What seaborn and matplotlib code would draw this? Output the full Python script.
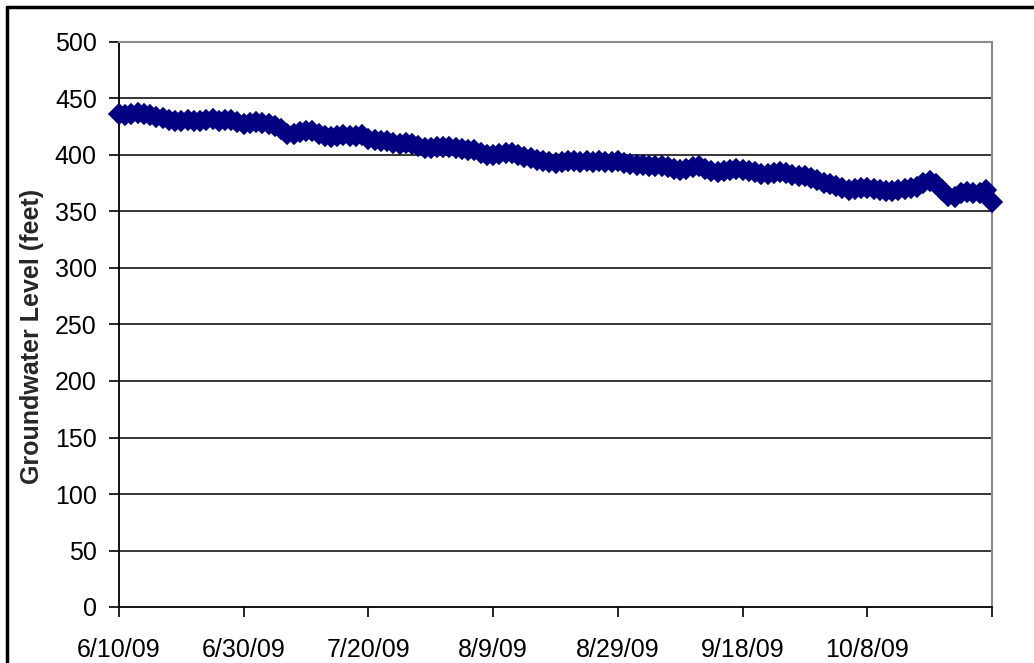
import matplotlib
matplotlib.use("Agg")
import matplotlib.pyplot as plt
from matplotlib.lines import Line2D
import seaborn as sns
import pandas as pd

# ---- data (daily readings) ----
start_date = "2009-06-10"
levels = [
    436, 435, 436, 437, 436, 435, 434, 433, 431, 430,
    430, 431, 430, 430, 431, 432, 430, 431, 431, 429,
    427, 428, 429, 428, 427, 426, 423, 419, 419, 420,
    421, 421, 419, 417, 416, 417, 418, 417, 417, 418,
    414, 413, 412, 412, 411, 410, 411, 410, 408, 406,
    406, 407, 407, 407, 406, 405, 404, 404, 402, 400,
    400, 401, 402, 402, 400, 398, 397, 396, 395, 394,
    393, 394, 395, 395, 394, 395, 394, 395, 394, 394,
    395, 393, 392, 391, 391, 390, 390, 390, 389, 388,
    387, 388, 389, 390, 388, 386, 385, 386, 387, 388,
    387, 386, 385, 383, 383, 384, 385, 384, 382, 381,
    381, 380, 378, 375, 374, 373, 371, 369, 370, 371,
    371, 370, 369, 368, 368, 369, 370, 371, 372, 375,
    377, 374, 369, 364, 363, 366, 367, 366, 366, 369,
    358,
]
tick_dates = ["2009-06-10", "2009-06-30", "2009-07-20", "2009-08-09",
              "2009-08-29", "2009-09-18", "2009-10-08", "2009-10-28"]
tick_labels = ["6/10/09", "6/30/09", "7/20/09", "8/9/09",
               "8/29/09", "9/18/09", "10/8/09", ""]
y_ticks = [0, 50, 100, 150, 200, 250, 300, 350, 400, 450, 500]
y_label = "Groundwater Level (feet)"

df = pd.DataFrame({
    "date": pd.date_range(start_date, periods=len(levels), freq="D"),
    "level": levels,
})

sns.set_theme(style="white")
plt.rcParams["font.family"] = ["Liberation Sans", "DejaVu Sans"]

fig = plt.figure(figsize=(10.34, 6.63), dpi=100)
ax = fig.add_axes([119 / 1034, 1 - 607 / 663, (992 - 119) / 1034, (607 - 42) / 663])

sns.lineplot(data=df, x="date", y="level", ax=ax, color="#000080",
             marker="D", markersize=10.5, markeredgecolor="#000080",
             markeredgewidth=1.2, linewidth=3.5, clip_on=False, zorder=5)

ax.set_ylim(0, 500)
ax.set_xlim(pd.Timestamp(tick_dates[0]), pd.Timestamp(tick_dates[-1]))
ax.set_yticks(y_ticks)
ax.set_yticklabels([str(v) for v in y_ticks])
ax.set_xticks([pd.Timestamp(d) for d in tick_dates])
ax.set_xticklabels(tick_labels)

for v in y_ticks[1:-1]:
    ax.axhline(v, color="black", linewidth=1.1, zorder=1)

for s in ["left", "bottom"]:
    ax.spines[s].set_color("black")
    ax.spines[s].set_linewidth(1.3)
for s in ["top", "right"]:
    ax.spines[s].set_color("#8a8a8a")
    ax.spines[s].set_linewidth(1.5)

ax.tick_params(axis="both", which="major", labelsize=18, colors="black",
               direction="out", length=7, width=1.2, left=True, bottom=True)
ax.tick_params(axis="y", pad=9)
ax.tick_params(axis="x", pad=15)

ax.set_xlabel("")
ax.set_ylabel(y_label, fontsize=18, fontweight="bold")
ax.yaxis.set_label_coords(-0.086, 0.478)

# outer chart frame (left and top edges visible)
fig.add_artist(Line2D([6.5 / 1034, 6.5 / 1034], [0, 1 - 6.5 / 663],
                      transform=fig.transFigure, color="black", linewidth=2.5))
fig.add_artist(Line2D([6.5 / 1034, 1], [1 - 6.5 / 663, 1 - 6.5 / 663],
                      transform=fig.transFigure, color="black", linewidth=2.5))

fig.savefig("out.png", dpi=100)
